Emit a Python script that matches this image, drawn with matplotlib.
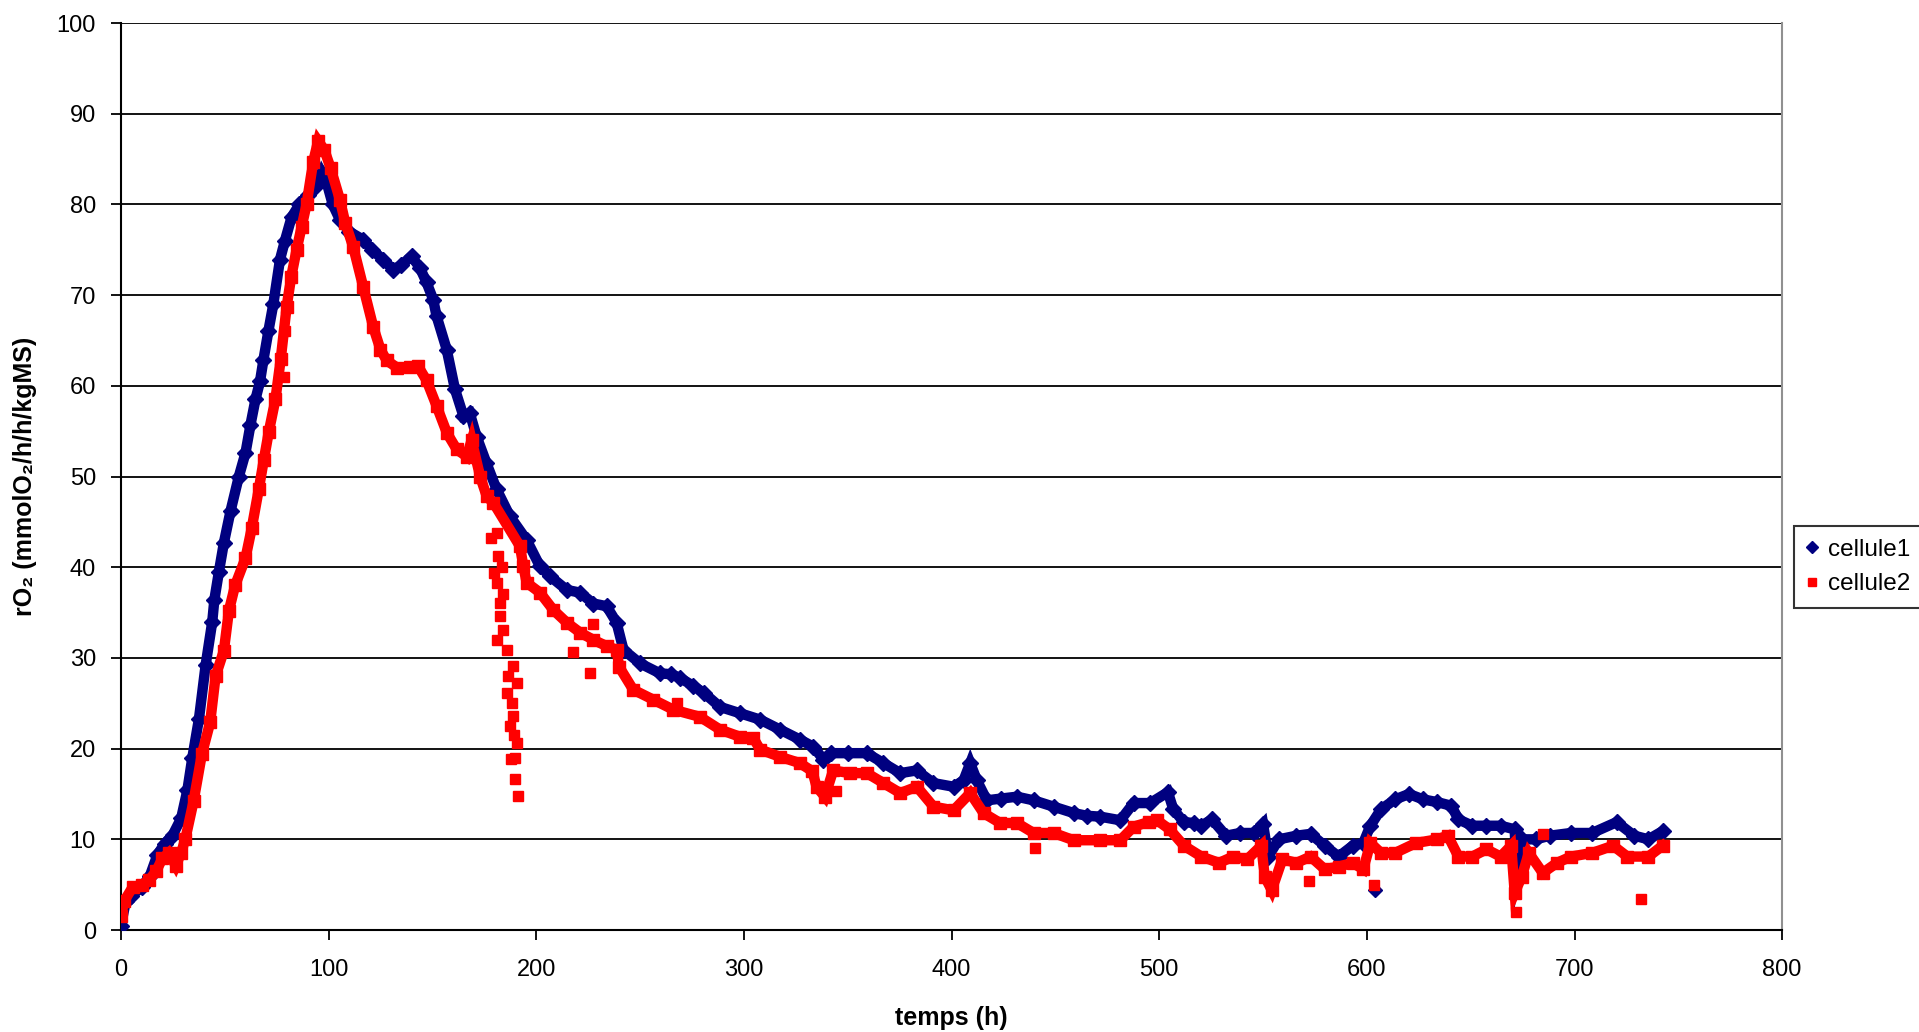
import matplotlib
matplotlib.use("Agg")
import matplotlib.pyplot as plt

plt.rcParams["font.family"] = ["Liberation Sans", "DejaVu Sans"]

# cellule1 : courbe principale (temps en h, rO2)
temps_c1 = [0, 2.4, 5, 10, 14, 17.6, 21, 25, 29, 32, 34.4, 37.6, 40.8, 44, 45, 47.2,
            49.6, 52.8, 56.8, 60, 62.4, 64.8, 67, 68.6, 71, 73.4, 76.6, 79, 82.2, 86,
            90, 94, 96.7, 99, 102, 105.5, 110, 116.7, 121, 126.3, 131.2, 135, 140, 144,
            147.2, 150.4, 152, 156.9, 160.9, 164.9, 168, 171.3, 176, 180.9, 187.4,
            195.4, 201.8, 206.7, 214.7, 221.1, 227.5, 233.9, 238.7, 242, 250, 259.6,
            265, 269.3, 275.7, 281, 288.5, 298.2, 307.8, 317.4, 327, 333.5, 338.3, 342,
            350, 359.2, 367.2, 375.3, 383.3, 391.3, 401, 405.8, 409, 412.2, 417, 424,
            431.5, 439.5, 449.2, 458.8, 465, 471.6, 481.3, 487.7, 495.7, 504.2, 506.8,
            511.9, 516.6, 520.3, 525.4, 532.2, 539, 545.8, 550, 552.5, 557.6, 566.1,
            572.9, 579.7, 586.4, 593.2, 598.3, 601.7, 606.8, 613.6, 620.3, 627.1, 633.9,
            640.7, 644.1, 650.8, 657.6, 664.4, 671.2, 672, 674.6, 681.4, 688.1, 698.3,
            708.5, 720.3, 728.8, 735.6, 742.4]
ro2_c1 = [0.5, 3.2, 3.8, 4.7, 6, 8.3, 9.5, 10.5, 12.3, 15.4, 19, 23.3, 29.2, 34, 36.4, 39.5,
          42.7, 46.2, 50, 52.6, 55.7, 58.5, 60.5, 62.8, 66, 69, 73.9, 76, 78.6, 80,
          81, 82, 83.5, 82.5, 80, 78.3, 77, 76.1, 75, 73.9, 72.8, 73.3, 74.3, 73,
          71.4, 69.5, 67.7, 64, 59.6, 56.7, 57, 54.4, 51.5, 48.6, 45.6,
          43, 40.1, 39, 37.5, 37.2, 36, 35.7, 33.9, 30.9, 29.4, 28.3,
          28.2, 27.8, 26.9, 26.1, 24.6, 23.9, 23.2, 22.1, 21, 20.2, 18.8, 19.5,
          19.5, 19.5, 18.4, 17.3, 17.6, 16.2, 15.8, 16.5, 18.4, 16.5, 14.3, 14.5,
          14.7, 14.3, 13.6, 12.9, 12.6, 12.5, 12.1, 14, 14, 15.2, 13.3,
          11.9, 11.8, 11.5, 12.2, 10.4, 10.7, 10.7, 11.7, 8.1, 10, 10.4,
          10.6, 9.3, 8.1, 9.3, 9.6, 11.5, 13.3, 14.4, 15, 14.4, 14.1,
          13.7, 12.2, 11.5, 11.5, 11.5, 11.1, 6.7, 10, 10, 10.4, 10.7,
          10.7, 11.9, 10.4, 10, 10.9]

# cellule1 : points isolés
temps_c1_iso = [604]
ro2_c1_iso = [4.4]

# cellule2 : courbe principale
temps_c2 = [0, 1.6, 5.6, 10, 13.6, 17, 20, 23, 26.4, 29, 31, 35, 39, 43, 45.6, 49.6, 52,
            55, 60, 63, 66.4, 68.8, 71.2, 74.4, 77, 79.8, 82, 84.6, 87, 89.4, 92.6, 95,
            98, 101, 105.5, 108, 111.9, 116.7, 121.5, 125, 128, 133, 139.2, 143, 147.2,
            152, 157, 161.7, 166.5, 168.9, 173, 176.2, 179.4, 192.2, 193.8, 195.4,
            201.8, 208.2, 214.7, 221.1, 227.5, 233.9, 238.7, 240, 246.7, 256.4, 266,
            278.9, 288.5, 298.2, 304.5, 307.8, 317.4, 327, 333, 335, 339, 343, 351,
            359.2, 367.2, 375.3, 383.3, 391.3, 401, 409, 415.4, 423.4, 431.5, 439.5,
            449.2, 458.8, 471.6, 481.3, 487.7, 494.9, 499, 505, 511.9, 520.3, 528.8,
            535.6, 542.4, 549.2, 550.8, 554.2, 559.3, 566.1, 572.9, 579.7, 586.4, 593.2,
            598.3, 601.7, 606.8, 613.6, 623.7, 633.9, 639, 644.1, 650.8, 657.6, 664.4,
            669.5, 671.2, 674.6, 678, 684.7, 691.5, 698.3, 708.5, 718.6, 725.4, 735.6,
            742.4]
ro2_c2 = [1.5, 3.2, 4.7, 5, 5.5, 6.5, 7.9, 8.5, 7.1, 8.5, 10, 14.2, 19.4, 22.9, 28, 30.8, 35.2,
          38, 41, 44.3, 48.6, 51.8, 54.9, 58.5, 63, 68.7, 72, 75, 77.5, 80, 84.7, 87,
          86, 84, 80.5, 78, 75.3, 70.9, 66.5, 64, 62.8, 62, 62.1, 62.2, 60.6,
          57.8, 54.8, 53, 52.2, 54, 50, 47.8, 47.1, 42.3, 40.1, 38.3,
          37.2, 35.3, 33.9, 32.8, 32, 31.3, 30.9, 29, 26.5, 25.4, 24.3,
          23.5, 22.1, 21.3, 21.2, 19.9, 19.1, 18.4, 17.5, 15.8, 14.7, 17.6, 17.3,
          17.3, 16.2, 15.1, 15.8, 13.6, 13.2, 15.1, 12.9, 11.8, 11.8, 10.7,
          10.7, 9.9, 9.9, 9.9, 11.4, 11.9, 12.1, 11.1, 9.3, 8.1, 7.4,
          8.1, 7.8, 9.3, 5.9, 4.4, 7.8, 7.4, 8.1, 6.7, 7, 7.4,
          6.7, 9.6, 8.5, 8.5, 9.6, 10, 10.4, 8.1, 8.1, 8.9, 8.1,
          9.3, 4.1, 5.9, 8.5, 6.3, 7.4, 8.1, 8.5, 9.3, 8.1, 8.1,
          9.3]

# cellule2 : points isolés (chute vers 185 h et points hors bande)
temps_c2_iso = [78.4, 79, 178, 179.8, 181, 181.8, 181, 182.6, 182.6, 181, 183.5, 184, 184.2,
                185.8, 186.5, 189, 190.6, 185.8, 188.5, 189, 187.4, 189.5, 190.6, 190, 188,
                189.9, 191, 217.9, 225.9, 227.5, 267.6, 344.6, 440.3, 572, 603.4, 672,
                684.7, 732.2]
ro2_c2_iso = [61, 66, 43.2, 39.4, 43.8, 41.2, 38.3, 36.1, 34.6, 32, 40, 37, 33.1,
              30.9, 28, 29.1, 27.2, 26.1, 25, 23.6, 22.5, 21.5, 20.6, 19, 18.9,
              16.7, 14.8, 30.6, 28.3, 33.7, 25, 15.3, 9, 5.4, 5, 2,
              10.6, 3.4]

BLEU = "#000080"
ROUGE = "#FF0000"


def plot_courbes(ax):
    # bande épaisse + marqueurs pour imiter le nuage de points dense
    ax.plot(temps_c1, ro2_c1, color=BLEU, lw=7.5, marker="D", ms=8,
            solid_joinstyle="miter", zorder=3, label="cellule1")
    ax.plot(temps_c1_iso, ro2_c1_iso, ls="none", color=BLEU, marker="D", ms=7, zorder=3)
    ax.plot(temps_c2, ro2_c2, color=ROUGE, lw=7.5, marker="s", ms=8,
            solid_joinstyle="miter", zorder=4, label="cellule2")
    ax.plot(temps_c2_iso, ro2_c2_iso, ls="none", color=ROUGE, marker="s", ms=7, zorder=4)


def style_axes(ax):
    ax.set_xlim(0, 800)
    ax.set_ylim(0, 100)
    ax.set_xticks(range(0, 801, 100))
    ax.set_yticks(range(0, 101, 10))
    ax.grid(axis="y", color="black", lw=1.3, zorder=1)
    ax.set_axisbelow(True)
    ax.tick_params(direction="out", length=7, width=1.3, labelsize=17, colors="black")
    ax.tick_params(axis="x", pad=14)
    ax.tick_params(axis="y", pad=11)
    for side in ["left", "bottom"]:
        ax.spines[side].set_color("black")
        ax.spines[side].set_linewidth(1.5)
    ax.spines["top"].set_visible(False)
    ax.spines["right"].set_color("#909090")
    ax.spines["right"].set_linewidth(1.5)
    ax.set_xlabel("temps (h)", fontsize=18, fontweight="bold", labelpad=18)
    ax.set_ylabel("rO₂ (mmolO₂/h/h/kgMS)", fontsize=18, fontweight="bold", labelpad=14)


def main():
    fig = plt.figure(figsize=(19.19, 10.32), dpi=100)
    ax = fig.add_axes([0.063, 0.0988, 0.8657, 0.8789])
    plot_courbes(ax)
    style_axes(ax)

    leg = fig.legend(handles=ax.get_lines()[0::2], labels=["cellule1", "cellule2"],
                     loc="center left", bbox_to_anchor=(0.935, 0.4506), borderaxespad=0,
                     fontsize=17.5, frameon=True, fancybox=False, edgecolor="black",
                     handlelength=0.4, handletextpad=0.45, borderpad=0.55, labelspacing=0.5)
    leg.get_frame().set_linewidth(1.5)
    for h in leg.legend_handles:
        h.set_linestyle("none")
        h.set_markersize(6)

    fig.savefig("out.png", dpi=100)
    plt.close(fig)


if __name__ == "__main__":
    main()
